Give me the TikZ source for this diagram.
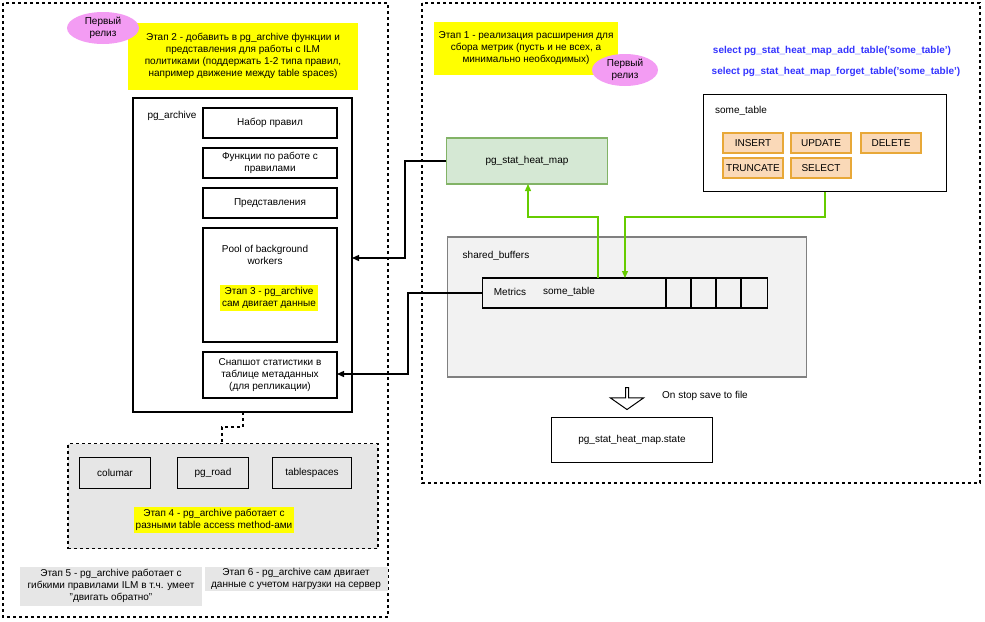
\documentclass[tikz,border=0pt]{standalone}
\usepackage{fontspec}
\setmainfont{Liberation Sans}
\usetikzlibrary{positioning,shapes.arrows,shapes.geometric,arrows.meta}
\definecolor{hl}{HTML}{FFFF00}
\definecolor{relpink}{HTML}{F39CF3}
\definecolor{heatgreen}{HTML}{D5E8D4}
\definecolor{heatedge}{HTML}{82B366}
\definecolor{opfill}{HTML}{FAD9B8}
\definecolor{opedge}{HTML}{E8A838}
\definecolor{bufgray}{HTML}{F2F2F2}
\definecolor{stagegray}{HTML}{E6E6E6}
\definecolor{linkgreen}{HTML}{66CC00}
\definecolor{sqlblue}{HTML}{3333FF}
\begin{document}
\begin{tikzpicture}[x=1pt,y=-1pt,line width=1.3pt,every node/.style={font=\fontsize{10}{12}\selectfont,align=center},
      box/.style={draw,minimum width=#1,align=center,inner sep=1pt},
      hlnote/.style={fill=hl,align=center,inner sep=2pt},
      relnote/.style={ellipse,fill=relpink,align=center,minimum width=72,minimum height=32,inner sep=0pt},
      opbox/.style={draw=opedge,fill=opfill,minimum width=60,minimum height=20,inner sep=0pt},
      grn/.style={draw=linkgreen,-{Triangle[length=7pt,width=6pt]}},
      blk/.style={draw,-{Triangle[length=7pt,width=6pt]}}]
      \useasboundingbox (0,0) rectangle (985,621);

      % outer dashed areas
      \draw[dashed] (3,3) rectangle (388,617);
      \draw[dashed] (422,3) rectangle (980,483);

      % left part: pg_archive
      \node[hlnote, minimum width=230, minimum height=67] (stage2) at (243,56) {Этап 2 - добавить в pg\_archive функции и\\представления для работы с ILM\\политиками (поддержать 1-2 типа правил,\\например движение между table spaces)};
      \node[relnote] (rel2) at (103,28) {Первый\\релиз};
      \draw (133,98) rectangle (352,412);
      \node (archlbl) at (172,116) {pg\_archive};
      \coordinate (archR) at (352,258);
      \coordinate (archB) at (243,412);
      \node[box=134, minimum height=30] (rules) at (270,123) {Набор правил};
      \node[box=134, minimum height=30] (funcs) at (270,163) {Функции по работе с\\правилами};
      \node[box=134, minimum height=30] (views) at (270,203) {Представления};
      \node[box=134, minimum height=114] (pool) at (270,285) {};
      \node (poollbl) at (265,255) {Pool of background\\workers};
      \node[hlnote] (stage3) at (269,298) {Этап 3 - pg\_archive\\сам двигает данные};
      \node[box=134, minimum height=46] (snap) at (270,375) {Снапшот статистики в\\таблице метаданных\\(для репликации)};
      \coordinate (snapR) at (337,374);

      % table access methods
      \node[draw,dashed,fill=stagegray,minimum width=310,minimum height=105] (tam) at (223,496) {};
      \node[box=71, minimum height=31] (col) at (115,473) {columar};
      \node[box=71, minimum height=31] (road) at (213,473) {pg\_road};
      \node[box=79, minimum height=31] (tbs) at (312,473) {tablespaces};
      \node[hlnote] (stage4) at (214,520) {Этап 4 - pg\_archive работает с\\разными table access method-ами};
      \coordinate (tamT) at (222,443.5);
      \draw[dashed] (archB) |- (222,427) -- (tamT);

      \node[fill=stagegray,minimum width=182,minimum height=39,inner sep=1pt] (stage5) at (111,586) {Этап 5 - pg\_archive работает с\\гибкими правилами ILM в т.ч. умеет\\"двигать обратно"};
      \node[fill=stagegray,minimum width=183,minimum height=24,inner sep=1pt] (stage6) at (296,579) {Этап 6 - pg\_archive сам двигает\\данные с учетом нагрузки на сервер};

      % right part: pg_stat_heat_map
      \node[hlnote, minimum width=184, minimum height=53] (stage1) at (526,48) {Этап 1 - реализация расширения для\\сбора метрик (пусть и не всех, а\\минимально необходимых)};
      \node[relnote, minimum width=66] (rel1) at (625,70) {Первый\\релиз};
      \node[text=sqlblue,font=\fontsize{10}{12}\selectfont\bfseries] (addsql) at (832,51) {select pg\_stat\_heat\_map\_add\_table('some\_table')};
      \node[text=sqlblue,font=\fontsize{10}{12}\selectfont\bfseries] (forgetsql) at (836,72) {select pg\_stat\_heat\_map\_forget\_table('some\_table')};

      \node[draw=heatedge,fill=heatgreen,minimum width=161,minimum height=46] (heat) at (527,161) {pg\_stat\_heat\_map};
      \node[box=243, minimum height=97] (tbl) at (825,143) {};
      \node (tbllbl) at (741,111) {some\_table};
      \node[opbox] (ins) at (753,143) {INSERT};
      \node[opbox] (upd) at (821,143) {UPDATE};
      \node[opbox] (del) at (891,143) {DELETE};
      \node[opbox] (trunc) at (753,168) {TRUNCATE};
      \node[opbox] (sel) at (821,168) {SELECT};

      \node[draw=gray,fill=bufgray,minimum width=359,minimum height=140] (buf) at (627,307) {};
      \node (buflbl) at (496,256) {shared\_buffers};
      \node[box=285, minimum height=30] (metrics) at (625,293) {};
      \foreach \cx in {666,691,716,741} \draw (\cx,278) -- (\cx,308);
      \node (mlbl) at (510,292) {Metrics};
      \node (mtbl) at (569,292) {some\_table};
      \coordinate (mtop1) at (598,278);
      \coordinate (mtop2) at (625,278);
      \coordinate (heatB) at (528,184);

      \node[single arrow,shape border rotate=270,draw,line width=1pt,fill=white,minimum height=22,single arrow head extend=15pt,minimum width=10,single arrow tip angle=110,inner sep=1pt] (save) at (627,398) {};
      \node (savelbl) at (705,396) {On stop save to file};
      \node[box=161, minimum height=45] (state) at (632,440) {pg\_stat\_heat\_map.state};

      \draw[grn] (mtop1) |- (528,217) -- (heatB);
      \draw[grn] (tbl.south) |- (625,217) -- (mtop2);
      \draw[blk] (heat.west) -| (405,258) -- (archR);
      \draw[blk] (metrics.west) -| (408,374) -- (snapR);
    \end{tikzpicture}
\end{document}
